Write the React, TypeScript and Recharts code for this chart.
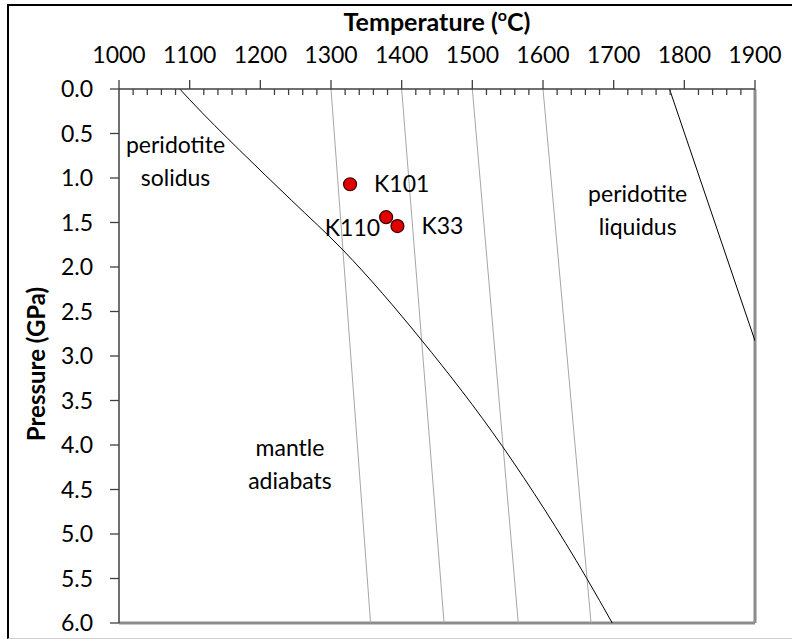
import { ComposedChart, Line, Scatter, XAxis, YAxis, ReferenceLine, ReferenceDot } from "recharts";

const tempTicks = [1000, 1100, 1200, 1300, 1400, 1500, 1600, 1700, 1800, 1900];
const pressureTicks = [0, 0.5, 1, 1.5, 2, 2.5, 3, 3.5, 4, 4.5, 5, 5.5, 6];

// peridotite solidus (T in C, P in GPa)
const solidusT = [1086, 1100, 1171, 1244, 1317, 1428, 1543, 1662, 1698];
const solidusP = [0, 0.12, 0.69, 1.25, 1.81, 2.82, 4.02, 5.5, 6.0];

// peridotite liquidus, runs off the right edge
const liquidusT = [1779, 1900];
const liquidusP = [0, 2.83];

// mantle adiabats: temperature at 0 GPa and at 6 GPa
const adiabatTop = [1300, 1400, 1500, 1600];
const adiabatBottom = [1356, 1460, 1565, 1668];

const sampleNames = ["K101", "K110", "K33"];
const sampleT = [1327, 1378, 1394];
const sampleP = [1.07, 1.44, 1.54];

const noteLines = [
  ["peridotite", "solidus"],
  ["peridotite", "liquidus"],
  ["mantle", "adiabats"],
];
const noteT = [1080, 1734, 1242];
const noteP = [0.72, 1.27, 4.12];

const FONT = "Lato, 'Open Sans', sans-serif";
const FS = 23;
const AXIS = "#404040";
const X_TICK = 9;
const X_MARGIN = 17;

const minorTicks: number[] = [];
tempTicks.slice(0, -1).forEach((t) => {
  for (let k = 20; k < 100; k += 20) minorTicks.push(t + k);
});
const allTempTicks = [...tempTicks, ...minorTicks].sort((a, b) => a - b);

const solidus = solidusT.map((t, i) => ({ t, p: solidusP[i] }));
const liquidus = liquidusT.map((t, i) => ({ t, p: liquidusP[i] }));
const adiabats = adiabatTop.map((t, i) => [
  { t, p: 0 },
  { t: adiabatBottom[i], p: 6 },
]);
const samples = sampleNames.map((name, i) => ({ name, t: sampleT[i], p: sampleP[i] }));

const XTick = (props: any) => {
  const { x, y, payload } = props;
  const axisY = y + X_TICK + X_MARGIN;
  const v = payload.value;
  if (v % 100 !== 0) {
    return <line x1={x} x2={x} y1={axisY} y2={axisY + 6} stroke={AXIS} strokeWidth={1.3} />;
  }
  return (
    <g>
      <line x1={x} x2={x} y1={axisY - X_TICK} y2={axisY} stroke={AXIS} strokeWidth={1.3} />
      <text x={x} y={y} textAnchor="middle" fontSize={FS} fill="#000" fontFamily={FONT}>
        {v}
      </text>
    </g>
  );
};

const XTitle = (props: any) => {
  const vb = props.viewBox;
  return (
    <text x={vb.x + vb.width / 2} y={vb.y + 31} textAnchor="middle" fontSize={25} fontWeight="bold" fill="#000" fontFamily={FONT}>
      Temperature (
      <tspan dy={-10} fontSize={16}>o</tspan>
      <tspan dy={10}>C)</tspan>
    </text>
  );
};

const YTitle = (props: any) => {
  const vb = props.viewBox;
  const cx = vb.x + 45;
  const cy = vb.y + vb.height / 2 + 8;
  return (
    <text x={cx} y={cy} transform={`rotate(-90, ${cx}, ${cy})`} textAnchor="middle" fontSize={24} fontWeight="bold" fill="#000" fontFamily={FONT}>
      Pressure (GPa)
    </text>
  );
};

const NoteLabel = (props: any) => {
  const { viewBox, lines } = props;
  const x = viewBox.x + (viewBox.width || 0) / 2;
  const y = viewBox.y + (viewBox.height || 0) / 2;
  return (
    <text x={x} y={y} textAnchor="middle" fontSize={FS} fill="#000" fontFamily={FONT}>
      <tspan x={x} dy={0}>{lines[0]}</tspan>
      <tspan x={x} dy={33}>{lines[1]}</tspan>
    </text>
  );
};

// K110's label sits to the left of its point, a little lower
const labelLeft: Record<string, boolean> = { K110: true };

const SampleDot = (props: any) => {
  const { cx, cy, payload } = props;
  const left = labelLeft[payload.name];
  return (
    <g>
      <circle cx={cx} cy={cy} r={6.5} fill="#e00000" stroke="#3a0000" strokeWidth={1.2} />
      <text
        x={left ? cx - 6 : cx + 24}
        y={left ? cy + 19 : cy + 8}
        textAnchor={left ? "end" : "start"}
        fontSize={FS}
        fill="#000"
        fontFamily={FONT}
      >
        {payload.name}
      </text>
    </g>
  );
};

export default function App() {
  return (
    <div style={{ position: "absolute", left: 0, top: 0, width: 792, height: 639, overflow: "hidden", background: "#fff", fontFamily: FONT }}>
      <ComposedChart width={792} height={639} margin={{ top: 0, right: 37, bottom: 16, left: 0 }}>
        <XAxis
          type="number"
          dataKey="t"
          orientation="top"
          domain={[1000, 1900]}
          allowDataOverflow
          ticks={allTempTicks}
          interval={0}
          height={89}
          tickSize={X_TICK}
          tickMargin={X_MARGIN}
          tickLine={false}
          tick={<XTick />}
          axisLine={{ stroke: AXIS, strokeWidth: 1.5 }}
          label={<XTitle />}
        />
        <YAxis
          type="number"
          dataKey="p"
          domain={[0, 6]}
          reversed
          allowDataOverflow
          ticks={pressureTicks}
          interval={0}
          width={119}
          tickSize={9}
          tickMargin={17}
          tickFormatter={(v: number) => v.toFixed(1)}
          tick={{ fontSize: FS, fill: "#000", fontFamily: FONT }}
          tickLine={{ stroke: AXIS, strokeWidth: 1.3 }}
          axisLine={{ stroke: AXIS, strokeWidth: 1.5 }}
          label={<YTitle />}
        />
        <ReferenceLine x={1900} stroke="#8c8c8c" strokeWidth={3} />
        <ReferenceLine y={6} stroke="#8c8c8c" strokeWidth={3} />
        {adiabats.map((d, i) => (
          <Line key={i} data={d} dataKey="p" type="linear" stroke="#a6a6a6" strokeWidth={1} dot={false} activeDot={false} isAnimationActive={false} />
        ))}
        <Line data={solidus} dataKey="p" type="monotone" stroke="#000" strokeWidth={1} dot={false} activeDot={false} isAnimationActive={false} />
        <Line data={liquidus} dataKey="p" type="linear" stroke="#000" strokeWidth={1} dot={false} activeDot={false} isAnimationActive={false} />
        {noteLines.map((lines, i) => (
          <ReferenceDot key={i} x={noteT[i]} y={noteP[i]} r={0} fill="none" stroke="none" label={<NoteLabel lines={lines} />} />
        ))}
        <Scatter data={samples} dataKey="p" shape={<SampleDot />} isAnimationActive={false} />
      </ComposedChart>
      <div
        style={{
          position: "absolute",
          left: 7,
          top: 4,
          width: 800,
          height: 632,
          borderTop: "2px solid #000",
          borderLeft: "2px solid #000",
          borderBottom: "1px solid #cfcfcf",
          pointerEvents: "none",
        }}
      />
    </div>
  );
}
